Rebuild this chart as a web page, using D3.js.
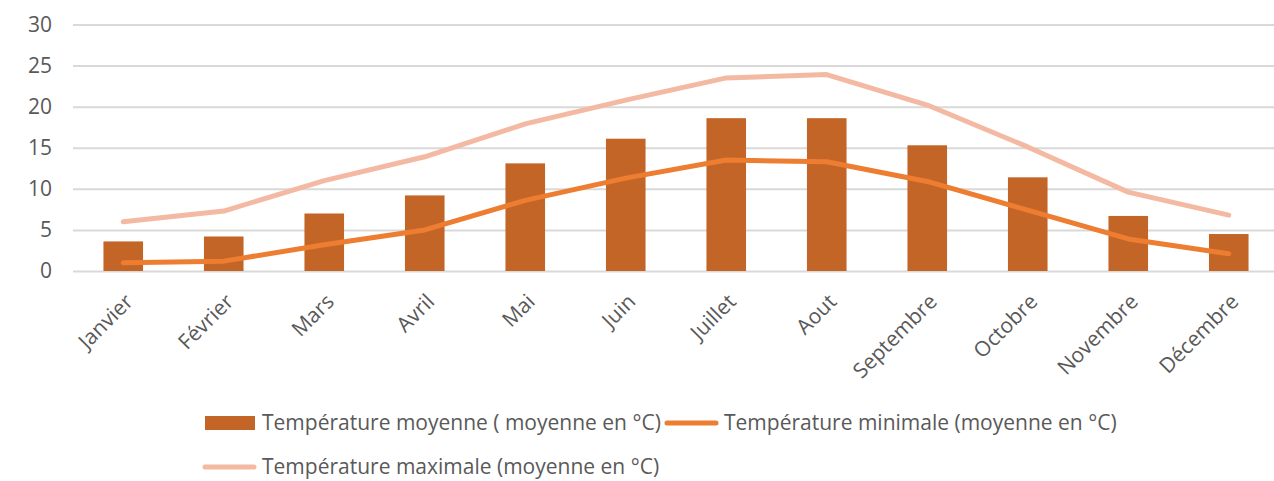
<!DOCTYPE html>
<html>
<head>
<meta charset="utf-8">
<script src="https://cdn.jsdelivr.net/npm/d3@7"></script>
<style>
  html, body { margin: 0; padding: 0; background: #fff; }
  svg { display: block; font-family: "Open Sans", Lato, sans-serif; }
</style>
</head>
<body>
<svg id="chart" width="1274" height="481"></svg>
<script>
// Monthly temperatures (°C)
const months = ["Janvier", "Février", "Mars", "Avril", "Mai", "Juin", "Juillet", "Aout", "Septembre", "Octobre", "Novembre", "Décembre"];
const tempMoyenne = [3.6, 4.2, 7.0, 9.2, 13.1, 16.1, 18.6, 18.6, 15.3, 11.4, 6.7, 4.5];
const tempMinimale = [1.0, 1.2, 3.2, 5.0, 8.6, 11.3, 13.5, 13.3, 10.9, 7.4, 3.9, 2.1];
const tempMaximale = [6.0, 7.3, 11.0, 13.9, 17.9, 20.8, 23.5, 23.9, 20.2, 15.1, 9.6, 6.8];
const yTicks = [0, 5, 10, 15, 20, 25, 30];
const legendLabels = [
  "Température moyenne ( moyenne en °C)",
  "Température minimale (moyenne en °C)",
  "Température maximale (moyenne en °C)"
];

const colBar = "#C46528", colMin = "#ED7D31", colMax = "#F4B9A2";
const textCol = "#595959", gridCol = "#D9D9D9";
const font = "'Open Sans', Lato, sans-serif";

const svg = d3.select("#chart");
const W = 1274;
const plot = { left: 73, right: 1279, top: 24.5, bottom: 271 };

const x = d3.scaleBand().domain(months).range([plot.left, plot.right]).padding(0);
const y = d3.scaleLinear().domain([0, 30]).range([plot.bottom, plot.top]);
const barW = x.bandwidth() * 0.394;
const cx = m => x(m) + x.bandwidth() / 2;

// gridlines + y labels
const yAxis = d3.axisLeft(y).tickValues(yTicks).tickSize(-(W - plot.left)).tickPadding(21);
const gy = svg.append("g").attr("transform", `translate(${plot.left},0)`).call(yAxis);
gy.select(".domain").remove();
gy.selectAll(".tick line").attr("stroke", gridCol).attr("stroke-width", 2);
gy.selectAll(".tick text").attr("fill", textCol).attr("font-size", 21).attr("font-family", font);

// bars
svg.append("g").selectAll("rect").data(months).join("rect")
  .attr("x", (m) => cx(m) - barW / 2)
  .attr("width", barW)
  .attr("y", (m, i) => y(tempMoyenne[i]))
  .attr("height", (m, i) => y(0) - y(tempMoyenne[i]))
  .attr("fill", colBar);

// lines
const line = d3.line().x((d, i) => cx(months[i])).y(d => y(d));
[[tempMaximale, colMax], [tempMinimale, colMin]].forEach(([vals, c]) => {
  svg.append("path").datum(vals).attr("d", line)
    .attr("fill", "none").attr("stroke", c).attr("stroke-width", 5)
    .attr("stroke-linecap", "round").attr("stroke-linejoin", "round");
});

// x labels, rotated
const xAxis = d3.axisBottom(x).tickSize(0).tickPadding(0);
const gx = svg.append("g").attr("transform", `translate(0,${plot.bottom})`).call(xAxis);
gx.select(".domain").remove();
gx.selectAll(".tick text")
  .attr("fill", textCol).attr("font-size", 21).attr("font-family", font)
  .attr("text-anchor", "end")
  .attr("dy", 0)
  .attr("transform", "translate(11,32) rotate(-45)");

// legend
const leg = svg.append("g").attr("font-size", 21).attr("font-family", font);
// item 1: bar swatch
leg.append("rect").attr("x", 205).attr("y", 416).attr("width", 50).attr("height", 14).attr("fill", colBar);
leg.append("text").attr("x", 262).attr("y", 423).attr("dy", "0.35em").attr("fill", textCol).text(legendLabels[0]);
// item 2: min line
leg.append("line").attr("x1", 667).attr("x2", 716).attr("y1", 423).attr("y2", 423)
  .attr("stroke", colMin).attr("stroke-width", 5).attr("stroke-linecap", "round");
leg.append("text").attr("x", 724).attr("y", 423).attr("dy", "0.35em").attr("fill", textCol).text(legendLabels[1]);
// item 3: max line
leg.append("line").attr("x1", 205).attr("x2", 254).attr("y1", 467).attr("y2", 467)
  .attr("stroke", colMax).attr("stroke-width", 5).attr("stroke-linecap", "round");
leg.append("text").attr("x", 262).attr("y", 467).attr("dy", "0.35em").attr("fill", textCol).text(legendLabels[2]);
</script>
</body>
</html>
